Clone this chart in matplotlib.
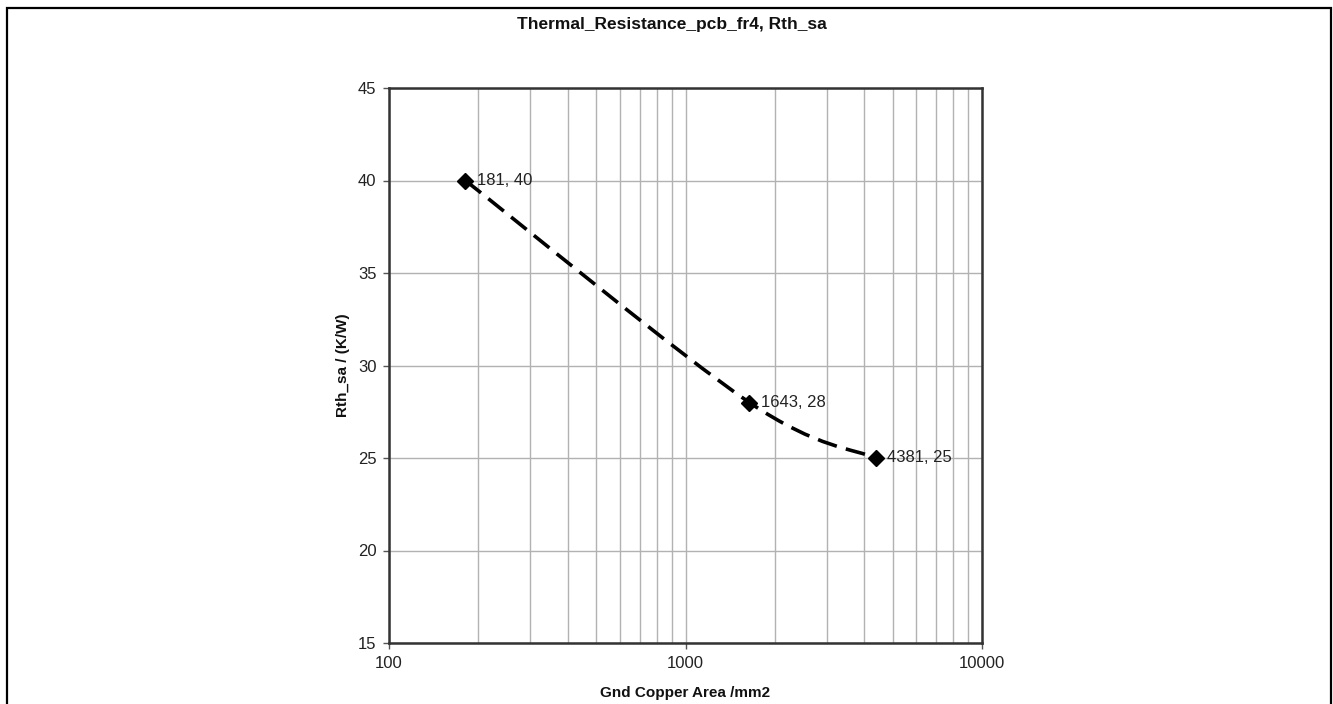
import numpy as np
import matplotlib
matplotlib.use('Agg')
import matplotlib.pyplot as plt
from matplotlib.path import Path
from matplotlib.patches import PathPatch, Rectangle
from matplotlib.ticker import LogLocator, NullFormatter

# ---- data ----
area = [181, 1643, 4381]
rth = [40, 28, 25]
point_labels = ['181, 40', '1643, 28', '4381, 25']
title = 'Thermal_Resistance_pcb_fr4, Rth_sa'
xlabel = 'Gnd Copper Area /mm2'
ylabel = 'Rth_sa / (K/W)'
xticks = [100, 1000, 10000]
xticklabels = ['100', '1000', '10000']
yticks = [15, 20, 25, 30, 35, 40, 45]

plt.rcParams['font.family'] = ['Liberation Sans', 'DejaVu Sans']

W, H = 1333, 704
fig = plt.figure(figsize=(W / 100, H / 100), dpi=100)
fig.patch.set_facecolor('white')

L, R, T, B = 389, 982, 88, 643
ax = fig.add_axes([L / W, 1 - B / H, (R - L) / W, (B - T) / H])
ax.set_xscale('log')
ax.set_xlim(xticks[0], xticks[-1])
ax.set_ylim(yticks[0], yticks[-1])
ax.set_xticks(xticks)
ax.set_xticklabels(xticklabels)
ax.xaxis.set_minor_locator(LogLocator(base=10, subs=range(2, 10)))
ax.xaxis.set_minor_formatter(NullFormatter())
ax.set_yticks(yticks)

grid_color = '#b2b2b2'
ax.grid(True, which='both', axis='x', color=grid_color, lw=1.0)
ax.grid(True, which='major', axis='y', color=grid_color, lw=1.0)
ax.set_axisbelow(True)

ax.tick_params(which='minor', length=0)
ax.tick_params(which='major', direction='out', length=4, width=1, color='#555555',
               labelsize=12, labelcolor='#222222', pad=5)
for s in ax.spines.values():
    s.set_color('#333333')
    s.set_linewidth(1.8)

# smooth (Excel-like) curve through the data points, computed in display space
fig.canvas.draw()
P = ax.transData.transform(np.column_stack([area, rth]))
n = len(P)
verts = [P[0]]
codes = [Path.MOVETO]
for i in range(n - 1):
    p0 = P[i - 1] if i > 0 else P[i]
    p1 = P[i]
    p2 = P[i + 1]
    p3 = P[i + 2] if i + 2 < n else P[i + 1]
    c1 = p1 + (p2 - p0) / 6.0
    c2 = p2 - (p3 - p1) / 6.0
    verts += [c1, c2, p2]
    codes += [Path.CURVE4] * 3
verts_data = ax.transData.inverted().transform(np.array(verts))
patch = PathPatch(Path(verts_data, codes), transform=ax.transData, fill=False,
                  edgecolor='black', lw=2.6, linestyle=(0, (5.5, 2.6)), capstyle='butt',
                  zorder=3)
ax.add_patch(patch)

ax.plot(area, rth, ls='none', marker='D', ms=8, mew=1, color='black', zorder=4)
for x, y, lab in zip(area, rth, point_labels):
    ax.annotate(lab, (x, y), xytext=(8, 0), textcoords='offset points',
                ha='left', va='center', fontsize=12, color='#222222', zorder=5)

fig.text(672 / W, 1 - 24 / H, title, ha='center', va='center', fontsize=12.5,
         fontweight='bold', color='#111111')
fig.text((L + R) / 2 / W, 1 - 693 / H, xlabel, ha='center', va='center', fontsize=11,
         fontweight='bold', color='#111111')
fig.text(343 / W, 1 - 365 / H, ylabel, ha='center', va='center', rotation=90,
         fontsize=11, fontweight='bold', color='#111111')

fig.add_artist(Rectangle((7 / W, -0.05), (1331 - 7) / W, 1 - 8 / H + 0.05,
                         transform=fig.transFigure, fill=False, lw=1.6,
                         edgecolor='black', clip_on=False))

fig.savefig('out.png', dpi=100)
